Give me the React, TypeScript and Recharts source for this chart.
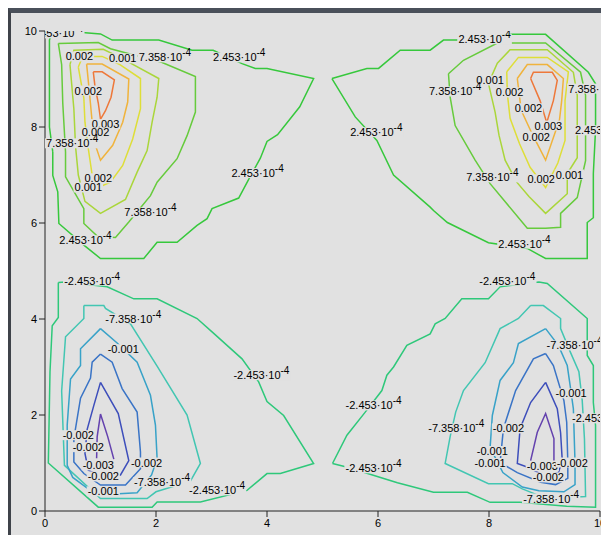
import { ComposedChart, Line, Scatter, XAxis, YAxis } from 'recharts'

type Pt = [number, number]

const BG = '#e1e1e1'
const FONT = '"Liberation Sans", Arial, sans-serif'

// chart box and the plot rectangle inside it
const CHART_W = 598
const CHART_H = 522
const MARGIN = { top: 18, right: 9, bottom: 0, left: 0 }
const Y_AXIS_W = 34
const X_AXIS_H = 24
const PLOT = {
  x: MARGIN.left + Y_AXIS_W,
  y: MARGIN.top,
  w: CHART_W - MARGIN.left - Y_AXIS_W - MARGIN.right,
  h: CHART_H - MARGIN.top - X_AXIS_H - MARGIN.bottom,
}

const TICKS = [0, 2, 4, 6, 8, 10]

// level colours, outermost to innermost
const POS_COLORS = ['#36c83c', '#66cb3c', '#aad63a', '#dede38', '#f0b33c', '#ee783a']
const NEG_COLORS = ['#2ec87a', '#42c6b2', '#38a2c8', '#3a74c6', '#3d4ebb', '#6442ae']

// upper left lobe (positive)
const TL_2453: Pt[] = [[0.14, 7.48], [0.08, 8.0], [0.08, 9.81], [0.12, 9.97], [0.67, 9.97], [1.0, 9.94], [1.21, 9.81], [2.05, 9.81], [2.65, 9.6], [3.03, 9.6], [3.55, 9.32], [3.79, 9.22], [4.0, 9.22], [4.84, 9.01], [4.59, 8.42], [4.19, 7.84], [4.0, 7.7], [3.88, 7.35], [3.67, 6.91], [3.49, 6.52], [3.01, 6.3], [2.92, 6.09], [2.74, 5.95], [2.38, 5.6], [2.02, 5.6], [1.78, 5.26], [1.0, 5.26], [0.7, 5.54], [0.25, 5.99], [0.23, 6.65], [0.14, 6.99], [0.14, 7.48]]
const TL_7358: Pt[] = [[0.24, 9.74], [0.96, 9.76], [1.18, 9.63], [1.6, 9.5], [2.1, 9.35], [2.71, 9.05], [2.71, 8.31], [2.56, 7.82], [2.38, 7.34], [2.02, 6.85], [1.9, 6.57], [1.51, 6.02], [1.27, 5.7], [0.95, 5.72], [0.7, 5.99], [0.7, 6.3], [0.37, 6.96], [0.37, 7.48], [0.32, 8.5], [0.3, 9.3], [0.24, 9.74]]
const TL_12: Pt[] = [[0.45, 9.3], [0.52, 9.6], [1.05, 9.62], [1.35, 9.45], [2.05, 9.01], [2.02, 8.62], [1.93, 8.1], [1.84, 7.51], [1.66, 7.06], [1.45, 6.49], [1.0, 6.2], [0.72, 6.45], [0.6, 7.0], [0.55, 7.6], [0.52, 8.38], [0.45, 9.3]]
const TL_17: Pt[] = [[0.6, 9.25], [0.68, 9.47], [1.03, 9.47], [1.35, 9.3], [1.72, 9.01], [1.72, 8.38], [1.58, 7.75], [1.4, 7.2], [1.18, 6.85], [1.0, 6.76], [0.85, 7.0], [0.78, 7.55], [0.72, 8.1], [0.7, 8.6], [0.6, 9.25]]
const TL_22: Pt[] = [[0.75, 9.31], [1.03, 9.31], [1.51, 9.0], [1.49, 8.52], [1.4, 8.1], [1.22, 7.62], [1.0, 7.31], [0.92, 7.58], [0.85, 8.1], [0.8, 8.73], [0.75, 9.31]]
const TL_27: Pt[] = [[0.87, 9.15], [1.03, 9.15], [1.25, 8.98], [1.19, 8.62], [1.09, 8.34], [1.0, 8.16], [0.96, 8.5], [0.9, 8.85], [0.87, 9.15]]

// upper right lobe (positive)
const TR_2453: Pt[] = [[5.17, 9.01], [5.8, 9.22], [6.01, 9.22], [6.4, 9.6], [6.94, 9.6], [7.18, 9.81], [7.45, 9.81], [8.42, 9.93], [9.02, 9.93], [9.79, 9.14], [9.92, 8.9], [9.92, 7.95], [9.88, 7.03], [9.88, 6.11], [9.77, 6.01], [9.77, 5.26], [9.02, 5.26], [8.69, 5.47], [7.99, 5.59], [7.25, 6.01], [7.0, 6.26], [6.94, 6.33], [6.28, 7.0], [5.98, 7.72], [5.59, 8.21], [5.17, 9.01]]
const TR_7358: Pt[] = [[7.27, 9.11], [7.54, 9.39], [8.15, 9.75], [9.02, 9.75], [9.65, 9.14], [9.74, 8.66], [9.74, 7.3], [9.59, 6.53], [9.29, 6.2], [9.29, 5.91], [9.02, 5.89], [8.69, 5.89], [8.02, 6.82], [7.75, 7.31], [7.39, 8.03], [7.3, 8.62], [7.27, 9.11]]
const TR_12: Pt[] = [[7.99, 8.91], [8.15, 9.33], [8.38, 9.61], [9.05, 9.61], [9.52, 9.14], [9.59, 8.66], [9.59, 7.36], [9.41, 7.03], [9.41, 6.61], [9.02, 6.2], [8.72, 6.55], [8.5, 6.85], [8.29, 7.31], [8.18, 7.83], [8.11, 8.31], [7.99, 8.91]]
const TR_17: Pt[] = [[8.32, 9.15], [8.53, 9.45], [9.05, 9.45], [9.43, 9.15], [9.37, 8.55], [9.37, 7.72], [9.24, 7.25], [9.02, 6.74], [8.74, 7.16], [8.55, 7.65], [8.38, 8.18], [8.33, 8.7], [8.32, 9.15]]
const TR_22: Pt[] = [[8.51, 9.01], [8.69, 9.3], [9.05, 9.3], [9.34, 9.01], [9.31, 8.55], [9.27, 8.15], [9.02, 7.31], [8.78, 7.85], [8.58, 8.35], [8.51, 9.01]]
const TR_27: Pt[] = [[8.75, 9.01], [8.8, 9.14], [9.14, 9.14], [9.23, 8.97], [9.16, 8.55], [9.04, 8.09], [8.92, 8.55], [8.75, 9.01]]

// lower left lobe (negative)
const BL_2453: Pt[] = [[0.24, 4.76], [0.37, 4.77], [1.12, 4.67], [1.6, 4.42], [2.02, 4.42], [2.74, 4.01], [3.04, 3.7], [3.55, 3.17], [3.85, 2.69], [4.0, 2.28], [4.3, 1.99], [4.84, 0.99], [4.24, 0.78], [4.0, 0.78], [3.64, 0.43], [2.8, 0.19], [2.02, 0.19], [1.93, 0.08], [0.96, 0.08], [0.06, 1.0], [0.09, 2.9], [0.13, 3.86], [0.24, 4.03], [0.24, 4.76]]
const BL_7358: Pt[] = [[0.7, 4.28], [1.06, 4.28], [1.09, 4.22], [1.54, 3.9], [2.02, 3.02], [2.56, 2.0], [2.8, 0.99], [2.62, 0.62], [2.0, 0.4], [1.84, 0.26], [1.0, 0.26], [0.35, 0.95], [0.3, 2.5], [0.37, 3.63], [0.7, 4.01], [0.7, 4.28]]
const BL_12: Pt[] = [[1.0, 3.8], [1.3, 3.5], [1.66, 3.1], [1.9, 2.41], [1.99, 1.79], [2.02, 1.09], [1.92, 0.75], [1.66, 0.38], [1.33, 0.36], [0.79, 0.45], [0.5, 0.7], [0.4, 0.95], [0.4, 1.79], [0.46, 2.75], [0.64, 3.03], [0.64, 3.38], [1.0, 3.8]]
const BL_17: Pt[] = [[1.0, 3.27], [1.21, 3.1], [1.39, 2.55], [1.66, 2.06], [1.72, 1.23], [1.72, 0.88], [1.45, 0.54], [1.0, 0.54], [0.7, 0.78], [0.52, 1.02], [0.52, 1.51], [0.64, 2.35], [0.82, 2.77], [0.85, 3.1], [1.0, 3.27]]
const BL_22: Pt[] = [[1.0, 2.68], [1.32, 2.03], [1.51, 1.05], [1.36, 0.75], [1.0, 0.72], [0.78, 0.85], [0.72, 1.2], [0.76, 1.7], [0.88, 2.2], [1.0, 2.68]]
const BL_27: Pt[] = [[0.93, 1.1], [0.94, 1.55], [1.0, 2.02], [1.13, 1.55], [1.24, 1.08]]

// lower right lobe (negative)
const BR_2453: Pt[] = [[5.18, 0.99], [5.44, 1.58], [5.77, 2.06], [6.07, 2.51], [6.16, 2.83], [6.28, 3.0], [6.52, 3.45], [6.94, 3.69], [7.03, 3.9], [7.21, 4.01], [7.51, 4.42], [7.99, 4.42], [8.2, 4.67], [8.9, 4.77], [9.05, 4.74], [9.77, 4.01], [9.77, 3.24], [9.88, 3.03], [9.88, 2.26], [9.92, 1.78], [9.92, 0.08], [9.4, 0.1], [8.56, 0.18], [8.02, 0.18], [7.61, 0.39], [7.0, 0.39], [6.35, 0.59], [5.45, 0.91], [5.18, 0.99]]
const BR_7358: Pt[] = [[8.75, 4.28], [8.98, 4.28], [9.29, 4.01], [9.29, 3.8], [9.47, 3.3], [9.62, 2.9], [9.68, 2.3], [9.72, 1.5], [9.74, 0.3], [9.4, 0.28], [8.95, 0.3], [8.6, 0.46], [8.42, 0.57], [7.99, 0.57], [7.21, 0.99], [7.3, 1.55], [7.4, 2.06], [7.54, 2.51], [7.93, 3.09], [8.2, 3.8], [8.53, 4.01], [8.75, 4.28]]
const BR_12: Pt[] = [[9.02, 3.8], [9.25, 3.45], [9.41, 3.03], [9.47, 2.55], [9.52, 2.13], [9.55, 1.01], [9.55, 0.55], [9.35, 0.4], [8.9, 0.42], [8.6, 0.5], [8.25, 0.8], [8.02, 1.32], [8.06, 1.99], [8.2, 2.72], [8.44, 3.09], [8.53, 3.49], [9.02, 3.8]]
const BR_17: Pt[] = [[9.02, 3.28], [9.16, 3.03], [9.35, 2.3], [9.4, 1.85], [9.42, 1.01], [9.42, 0.68], [9.2, 0.55], [8.93, 0.6], [8.51, 0.8], [8.2, 1.01], [8.26, 1.72], [8.48, 2.51], [8.8, 3.17], [9.02, 3.28]]
const BR_22: Pt[] = [[9.02, 2.68], [9.23, 2.13], [9.29, 1.63], [9.32, 1.05], [9.25, 0.8], [9.0, 0.72], [8.75, 0.89], [8.51, 0.99], [8.56, 1.72], [8.75, 2.26], [9.02, 2.68]]
const BR_27: Pt[] = [[8.75, 1.05], [8.87, 1.64], [9.02, 2.03], [9.17, 1.51], [9.17, 1.05]]

// contour labels: text (exponent after ^), x, y
const LABELS: [string, number, number][] = [
  ['2.453·10^-4', 0.22, 9.95],
  ['0.002', 0.62, 9.47],
  ['0.001', 1.4, 9.43],
  ['7.358·10^-4', 2.16, 9.45],
  ['2.453·10^-4', 3.5, 9.45],
  ['0.002', 0.78, 8.76],
  ['0.003', 1.09, 8.06],
  ['0.002', 0.91, 7.89],
  ['7.358·10^-4', 0.49, 7.66],
  ['0.002', 0.96, 6.93],
  ['0.001', 0.78, 6.74],
  ['7.358·10^-4', 1.9, 6.22],
  ['2.453·10^-4', 0.73, 5.64],
  ['2.453·10^-4', 3.83, 7.04],
  ['2.453·10^-4', 5.97, 7.89],
  ['2.453·10^-4', 7.92, 9.83],
  ['0.001', 8.02, 8.97],
  ['7.358·10^-4', 7.39, 8.74],
  ['0.002', 8.37, 8.72],
  ['7.358·10^-4', 9.9, 8.8],
  ['0.002', 8.71, 8.39],
  ['0.003', 9.07, 8.03],
  ['0.002', 8.85, 7.8],
  ['2.453·10^-4', 10.02, 7.93],
  ['7.358·10^-4', 8.06, 6.95],
  ['0.002', 8.94, 6.91],
  ['0.001', 9.45, 7.01],
  ['2.453·10^-4', 8.64, 5.57],
  ['-2.453·10^-4', 0.85, 4.8],
  ['-7.358·10^-4', 1.59, 4.01],
  ['-0.001', 1.41, 3.37],
  ['-2.453·10^-4', 3.9, 2.83],
  ['-0.002', 0.6, 1.58],
  ['-0.002', 0.78, 1.33],
  ['-0.003', 0.96, 0.95],
  ['-0.002', 1.83, 1.01],
  ['-0.002', 1.05, 0.72],
  ['-7.358·10^-4', 2.11, 0.6],
  ['-0.001', 1.05, 0.41],
  ['-2.453·10^-4', 3.1, 0.43],
  ['-2.453·10^-4', 5.92, 2.2],
  ['-2.453·10^-4', 5.92, 0.89],
  ['-2.453·10^-4', 8.33, 4.8],
  ['-7.358·10^-4', 9.54, 3.45],
  ['-0.001', 9.48, 2.45],
  ['-2.453·10^-4', 10.0, 1.93],
  ['-7.358·10^-4', 7.41, 1.72],
  ['-0.002', 8.35, 1.72],
  ['-0.001', 8.06, 1.25],
  ['-0.001', 8.02, 1.0],
  ['-0.003', 8.96, 0.93],
  ['-0.002', 9.5, 1.01],
  ['-0.002', 9.07, 0.7],
  ['-7.358·10^-4', 9.12, 0.26],
]

const CONTOURS: { pts: Pt[]; color: string }[] = [
  ...[TL_2453, TL_7358, TL_12, TL_17, TL_22, TL_27].map((pts, i) => ({ pts, color: POS_COLORS[i] })),
  ...[TR_2453, TR_7358, TR_12, TR_17, TR_22, TR_27].map((pts, i) => ({ pts, color: POS_COLORS[i] })),
  ...[BL_2453, BL_7358, BL_12, BL_17, BL_22, BL_27].map((pts, i) => ({ pts, color: NEG_COLORS[i] })),
  ...[BR_2453, BR_7358, BR_12, BR_17, BR_22, BR_27].map((pts, i) => ({ pts, color: NEG_COLORS[i] })),
]

const labelData = LABELS.map(([text, x, y]) => ({ x, y, text }))

// rough glyph widths for an 11px Arial-like face
const charW = (c: string) => (c === '.' || c === '·' ? 3.1 : c === '-' ? 3.7 : 6.1)
const textW = (s: string) => s.split('').reduce((w, c) => w + charW(c), 0)

// label with a background box that breaks the line under it; the nested svg
// keeps labels near the frame cut at the plot edge
function ContourLabel(props: any) {
  const { cx, cy, payload } = props
  if (cx == null || cy == null) return <g />
  const [base, sup] = String(payload.text).split('^')
  const w = textW(base) + (sup ? textW(sup) * 0.9 + 1 : 0)
  const lx = cx - PLOT.x
  const ly = cy - PLOT.y
  return (
    <svg x={PLOT.x} y={PLOT.y} width={PLOT.w} height={PLOT.h} overflow="hidden">
      <rect x={lx - w / 2 - 1} y={ly - 5} width={w + 2} height={10} fill={BG} />
      <text x={lx} y={ly + 4} textAnchor="middle" fontSize={11} fontFamily={FONT} fill="#000">
        {base}
        {sup && <tspan dy={-5} fontSize={10}>{sup}</tspan>}
      </text>
    </svg>
  )
}

export default function App() {
  return (
    <div style={{ position: 'relative', width: 601, height: 527, boxSizing: 'border-box', background: BG,
      borderTop: '5px solid #4a505a', borderLeft: '3px solid #3f434a' }}>
      <div style={{ position: 'absolute', left: -6, top: 487, width: 2, height: 13, background: '#333' }} />
      <ComposedChart width={CHART_W} height={CHART_H} margin={MARGIN}>
        <XAxis type="number" dataKey="x" domain={[0, 10]} ticks={TICKS} allowDataOverflow height={X_AXIS_H}
          tickSize={6} axisLine={{ stroke: '#222' }} tickLine={{ stroke: '#222' }}
          tick={{ fontSize: 11, fill: '#000', fontFamily: FONT }} />
        <YAxis type="number" dataKey="y" domain={[0, 10]} ticks={TICKS} allowDataOverflow width={Y_AXIS_W}
          tickSize={6} axisLine={{ stroke: '#222' }} tickLine={{ stroke: '#222' }}
          tick={{ fontSize: 11, fill: '#000', fontFamily: FONT }} />
        <XAxis xAxisId="top" orientation="top" type="number" domain={[0, 10]} height={0}
          tick={false} tickLine={false} axisLine={{ stroke: '#777', strokeWidth: 1.5 }} />
        <YAxis yAxisId="right" orientation="right" type="number" domain={[0, 10]} width={0}
          tick={false} tickLine={false} axisLine={{ stroke: '#777', strokeWidth: 2 }} />
        {CONTOURS.map((c, i) => (
          <Line key={i} data={c.pts.map(([x, y]) => ({ x, y }))} dataKey="y" type="linear"
            stroke={c.color} strokeWidth={1.5} dot={false} activeDot={false} isAnimationActive={false} />
        ))}
        <Scatter data={labelData} dataKey="y" shape={(p: any) => <ContourLabel {...p} />} isAnimationActive={false} />
      </ComposedChart>
    </div>
  )
}
